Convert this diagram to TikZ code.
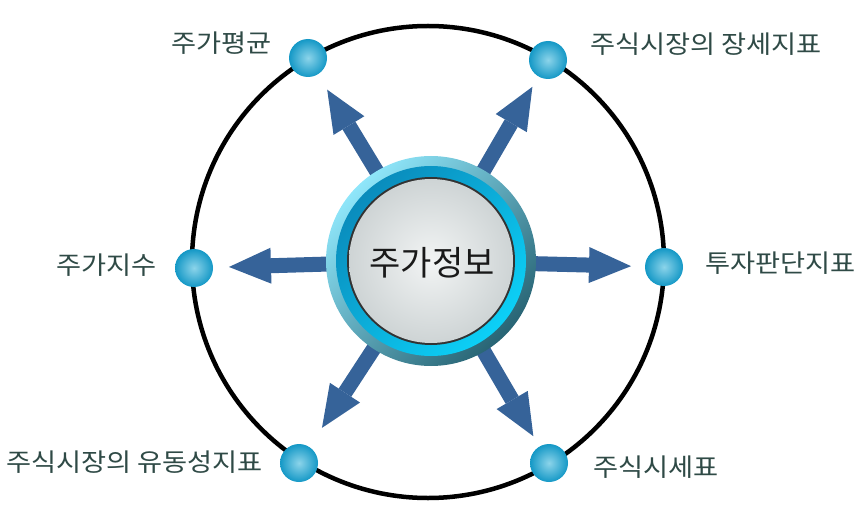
\documentclass[tikz,border=0pt]{standalone}
\usepackage{fontspec}
\newfontfamily\kr{Noto Sans CJK KR}
\newfontfamily\krw[FakeStretch=1.09]{Noto Sans CJK KR}
\usetikzlibrary{arrows.meta,calc}
\definecolor{arrowblue}{RGB}{54,99,153}
\definecolor{lbltext}{RGB}{47,74,70}
\definecolor{dotin}{RGB}{140,212,234}
\definecolor{dotout}{RGB}{20,152,198}
\definecolor{ringlight}{RGB}{143,230,250}
\definecolor{ringdark}{RGB}{40,100,116}
\definecolor{innerdark}{RGB}{10,140,188}
\definecolor{innerlight}{RGB}{12,208,247}
\definecolor{silverin}{RGB}{242,244,244}
\definecolor{silverout}{RGB}{206,212,213}
\begin{document}
\begin{tikzpicture}[x=1pt,y=-1pt,
  dot/.style={circle,minimum size=38pt,inner sep=0pt,shade,inner color=dotin,outer color=dotout},
  lbl/.style={inner sep=0pt,text=lbltext,font=\krw\fontsize{25}{30}\selectfont},
  bigarrow/.style={draw=arrowblue,line width=15pt,-{Triangle[length=42pt,width=36pt,line width=0pt,fill=arrowblue]}}]
\useasboundingbox (0,0) rectangle (865,516);
% outer circle
\draw[line width=4.5pt] (428,262) circle[radius=236];
% dots
\node[dot] (dTL) at (308,58) {};
\node[dot] (dTR) at (548,60) {};
\node[dot] (dL) at (194,268) {};
\node[dot] (dR) at (664,267) {};
\node[dot] (dBL) at (299,463) {};
\node[dot] (dBR) at (549,463) {};
% arrows
\coordinate (hc) at (431,261);
\draw[bigarrow,shorten >=37pt] (hc) -- (dTL.center);
\draw[bigarrow,shorten >=31pt] (hc) -- (dTR.center);
\draw[bigarrow,shorten >=35pt] (hc) -- (dL.center);
\draw[bigarrow,shorten >=33pt] (hc) -- (dR.center);
\draw[bigarrow,shorten >=42pt] (hc) -- (dBL.center);
\draw[bigarrow,shorten >=31pt] (hc) -- (dBR.center);
% hub
\shade[top color=ringlight,bottom color=ringdark,shading angle=45] (hc) circle[radius=105];
\shade[top color=innerdark,bottom color=innerlight,shading angle=45] (hc) circle[radius=95];
\fill[black!80] (hc) circle[radius=84];
\shade[inner color=silverin,outer color=silverout] (hc) circle[radius=82];
\node[inner sep=0pt,font=\kr\fontsize{34}{40}\selectfont,text=black!90] (hub) at (432,263) {주가정보};
% labels
\node[lbl,anchor=east] (tTL) at (272,43) {주가평균};
\node[lbl,anchor=west] (tTR) at (590,44) {주식시장의 장세지표};
\node[lbl,anchor=east] (tL) at (157,265) {주가지수};
\node[lbl,anchor=west] (tR) at (705,263) {투자판단지표};
\node[lbl,anchor=west] (tBL) at (6,462) {주식시장의 유동성지표};
\node[lbl,anchor=west] (tBR) at (593,467) {주식시세표};
\end{tikzpicture}
\end{document}
